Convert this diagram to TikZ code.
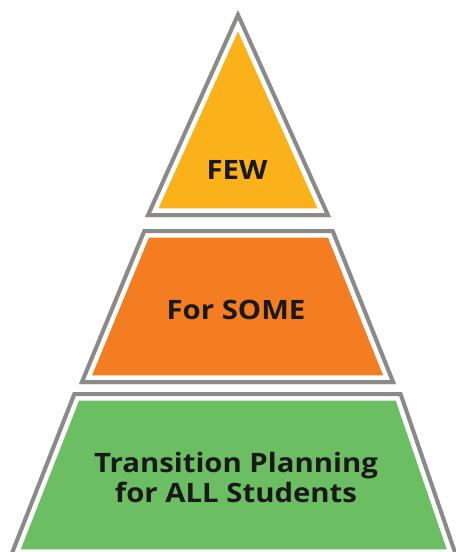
\documentclass[tikz,border=0pt]{standalone}
\usepackage{fontspec}
\setsansfont[FakeStretch=1.1]{Open Sans}
\usepackage{tikz}

\definecolor{fewYellow}{RGB}{251,178,26}
\definecolor{someOrange}{RGB}{244,125,34}
\definecolor{allGreen}{RGB}{108,190,98}
\definecolor{rimGrey}{RGB}{138,138,138}

% one tier: colour, outline path (outer edge of the grey rim)
\newcommand{\pyrtier}[2]{%
  \begin{scope}
    \clip #2 -- cycle;
    \fill[#1] #2 -- cycle;
    \draw[white, line width=13pt] #2 -- cycle;
    \draw[rimGrey, line width=6pt] #2 -- cycle;
  \end{scope}}

\tikzset{
  tierlabel/.style={font=\sffamily\bfseries\fontsize{20}{22.5}\selectfont, text=black!90, align=center, inner sep=0pt}
}

\begin{document}
\begin{tikzpicture}[x=0.75pt,y=0.75pt,yscale=-1,xscale=1]
\useasboundingbox (0,0) rectangle (455,552);

% Top tier
\pyrtier{fewYellow}{(238,10) -- (331,217) -- (145,217)}
% Middle tier
\pyrtier{someOrange}{(143,229) -- (334,229) -- (396,384) -- (79,384)}
% Bottom tier
\pyrtier{allGreen}{(73,392) -- (402,392) -- (459,558) -- (8,558)}

% Text Node
\node[tierlabel] (few) at (237,170) {FEW};
% Text Node
\node[tierlabel] (some) at (236,310) {For SOME};
% Text Node
\node[tierlabel] (all) at (236,477) {Transition Planning\\for ALL Students};

\end{tikzpicture}
\end{document}
